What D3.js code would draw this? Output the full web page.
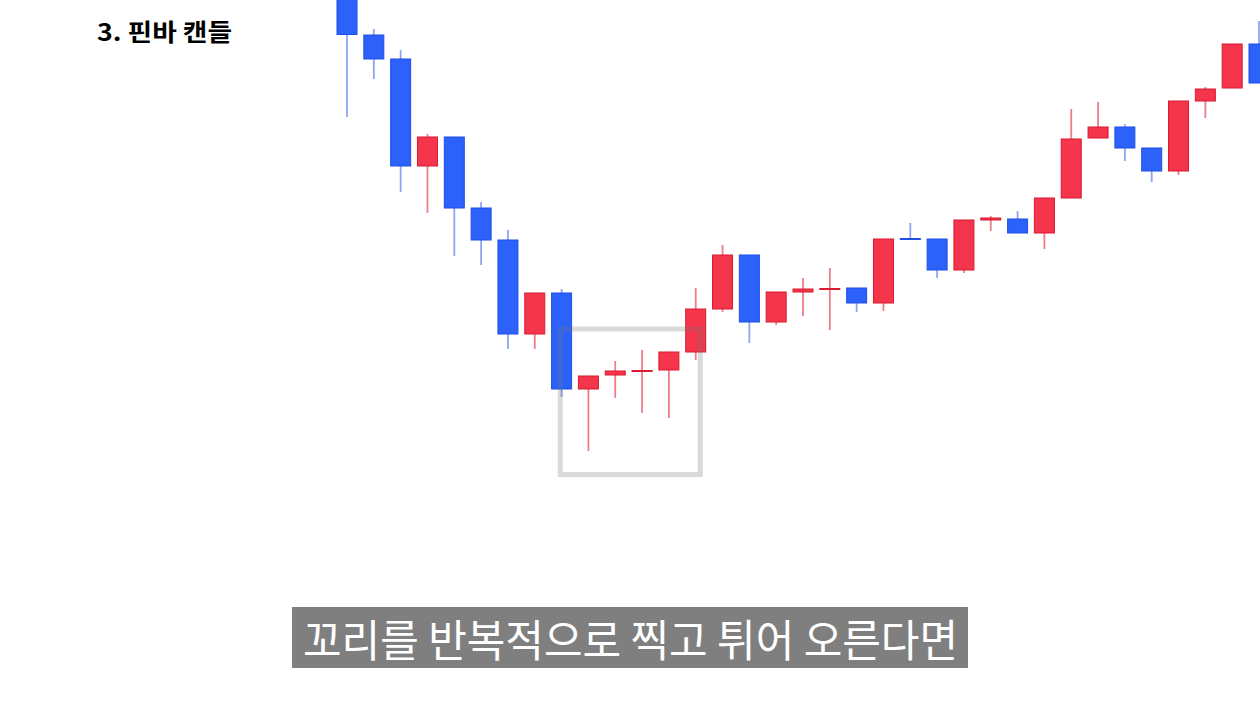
<!DOCTYPE html>
<html>
<head>
<meta charset="utf-8">
<script src="https://cdn.jsdelivr.net/npm/d3@7"></script>
<style>
  html, body { margin: 0; padding: 0; background: #ffffff; }
  svg { display: block; }
</style>
</head>
<body>
<svg id="chart" width="1260" height="704"></svg>
<script>
// ---- Data (price units) ----
const categories = d3.range(1, 36).map(String);
const opens  = [144.0,133.0,128.2,106.8,112.6,98.4,92.0,73.2,81.4,62.2,65.0,65.8,66.0,69.6,78.2,89.0,75.6,81.6,82.2,82.4,79.4,92.3,92.2,86.0,96.0,96.2,93.4,100.4,112.4,114.6,110.4,105.8,119.8,122.4,131.2];
const highs  = [146.0,134.2,130.0,113.2,112.6,99.6,94.0,81.4,82.2,64.8,67.8,70.0,69.6,82.4,91.0,89.0,81.6,84.4,86.4,82.4,92.2,95.4,92.2,96.0,96.8,97.8,100.4,118.2,119.6,115.2,110.4,119.8,122.6,131.2,135.8];
const lows   = [116.6,124.2,101.6,97.4,88.8,87.0,70.2,70.2,60.6,49.8,60.4,57.4,56.4,68.0,77.6,71.4,75.0,76.8,74.0,77.6,77.8,92.2,84.4,85.4,93.8,93.4,90.2,100.4,112.4,107.8,103.6,105.0,116.4,122.4,123.4];
const closes = [133.1,128.2,106.8,112.6,98.4,92.0,73.2,81.4,62.2,64.8,65.8,65.9,69.6,78.2,89.0,75.6,81.6,82.2,82.3,79.4,92.2,92.2,86.0,96.0,96.4,93.4,100.4,112.2,114.6,110.4,105.8,119.8,122.2,131.2,123.4];

const titleText = "3. 핀바 캔들";
const captionText = "꼬리를 반복적으로 찍고 튀어 오른다면";
// highlighted zone: fractional candle indices and price bounds
const zoneIdx = [7.95, 13.17];
const zonePrice = [45.1, 74.2];

const candles = categories.map((c, i) => ({
  cat: c, i, o: opens[i], h: highs[i], l: lows[i], c: closes[i]
}));

// ---- Layout ----
const W = 1260, H = 704;
const svg = d3.select("#chart");

const x = d3.scaleLinear().domain([0, categories.length - 1]).range([347, 1259]);
const y = d3.scaleLinear().domain([0, 140]).range([700, 0]);
const bodyW = 20;

const UP = { fill: "#f5354b", stroke: "#d91a30", wick: "#ea7e8c" };
const DOWN = { fill: "#2c62fa", stroke: "#1f4fe6", wick: "#8ea5f2" };
const col = d => (d.c >= d.o ? UP : DOWN);

const g = svg.append("g");

// wicks
g.selectAll("line.wick").data(candles).join("line")
  .attr("class", "wick")
  .attr("x1", d => x(d.i)).attr("x2", d => x(d.i))
  .attr("y1", d => y(d.h)).attr("y2", d => y(d.l))
  .attr("stroke", d => col(d).wick)
  .attr("stroke-width", 1.8);

// bodies
g.selectAll("rect.body").data(candles).join("rect")
  .attr("class", "body")
  .attr("x", d => x(d.i) - bodyW / 2)
  .attr("width", bodyW)
  .attr("y", d => y(Math.max(d.o, d.c)))
  .attr("height", d => Math.max(1, Math.abs(y(d.o) - y(d.c))))
  .attr("fill", d => col(d).fill)
  .attr("stroke", d => col(d).stroke)
  .attr("stroke-width", 1);

// highlight zone
svg.append("rect")
  .attr("x", x(zoneIdx[0]))
  .attr("y", y(zonePrice[1]))
  .attr("width", x(zoneIdx[1]) - x(zoneIdx[0]))
  .attr("height", y(zonePrice[0]) - y(zonePrice[1]))
  .attr("fill", "none")
  .attr("stroke", "rgba(120,120,120,0.27)")
  .attr("stroke-width", 5);

// title
svg.append("text")
  .attr("x", 97).attr("y", 41)
  .attr("font-family", "'Noto Sans CJK KR', 'Noto Sans', sans-serif")
  .attr("font-weight", 700)
  .attr("font-size", 24)
  .attr("fill", "#000")
  .attr("textLength", 135)
  .attr("lengthAdjust", "spacingAndGlyphs")
  .text(titleText);

// caption
svg.append("rect")
  .attr("x", 292).attr("y", 607)
  .attr("width", 676).attr("height", 61)
  .attr("fill", "#7f7f7f");

svg.append("text")
  .attr("x", 303).attr("y", 638)
  .attr("dominant-baseline", "central")
  .attr("font-family", "'Noto Sans CJK KR', sans-serif")
  .attr("font-weight", 400)
  .attr("font-size", 44)
  .attr("fill", "#ffffff")
  .attr("textLength", 655)
  .attr("lengthAdjust", "spacingAndGlyphs")
  .text(captionText);
</script>
</body>
</html>
